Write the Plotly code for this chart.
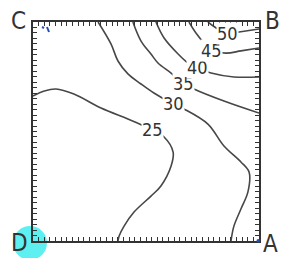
import plotly.graph_objects as go

# Contour lines (axis units 0-100, origin at corner D)
levels = [25, 30, 35, 40, 45, 50]
c25_x = [0, 5.0, 10.2, 18.1, 30.1, 42.0, 49.1, 52.7, 58.0, 62.0, 61.1, 56.6, 52.2, 44.7, 40.3, 38.1, 37.6]
c25_y = [66.2, 68.5, 69.4, 67.1, 60.7, 55.7, 52.5, 50.7, 47.5, 40.6, 34.2, 25.1, 20.5, 13.2, 6.8, 2.3, 0]
c30_x = [28.8, 34.5, 37.6, 42.0, 47.8, 53.5, 62.0, 66.8, 77.4, 84.5, 92.0, 95.6, 95.1, 92.0, 88.9, 87.6]
c30_y = [100, 90.0, 82.2, 76.3, 71.7, 67.6, 62.6, 60.3, 53.4, 43.4, 36.1, 31.5, 22.4, 14.6, 6.8, 0]
c35_x = [44.2, 47.8, 52.2, 55.3, 61.1, 66.4, 71.2, 84.5, 100]
c35_y = [100, 91.3, 85.4, 81.3, 76.7, 72.1, 69.4, 63.9, 58.4]
c40_x = [54.4, 58.0, 64.2, 68.6, 73.0, 78.8, 88.9, 100]
c40_y = [100, 92.7, 85.4, 81.3, 79.0, 76.7, 74.9, 74.9]
c45_x = [69.0, 72.1, 75.7, 78.8, 85.4, 92.0, 100]
c45_y = [100, 95.0, 90.4, 87.2, 85.8, 86.8, 88.1]
c50_x = [77.4, 80.6, 86.0, 91.2, 100]
c50_y = [100, 97.6, 94.6, 95.4, 96.8]
contours_x = [c25_x, c30_x, c35_x, c40_x, c45_x, c50_x]
contours_y = [c25_y, c30_y, c35_y, c40_y, c45_y, c50_y]
# label positions on each line
label_x = [52.7, 62.0, 66.4, 73.0, 78.8, 86.0]
label_y = [50.7, 62.6, 72.1, 79.0, 87.2, 94.6]
corner_names = ["A", "B", "C", "D"]

FONT = "Liberation Sans Narrow, DejaVu Sans Condensed, Liberation Sans"

fig = go.Figure()
for xs, ys in zip(contours_x, contours_y):
    fig.add_trace(go.Scatter(x=xs, y=ys, mode="lines",
                             line=dict(color="#474747", width=1.6, shape="spline", smoothing=1.0),
                             hoverinfo="skip", showlegend=False, cliponaxis=True))

for lv, lx, ly in zip(levels, label_x, label_y):
    fig.add_annotation(x=lx, y=ly, text=str(lv), showarrow=False,
                       font=dict(size=18, color="#333333", family=FONT),
                       bgcolor="white", borderpad=0)

# corner labels (paper coords)
corner_pos = {"A": (1.053, -0.014), "B": (1.058, 1.003), "C": (-0.066, 1.003), "D": (-0.058, -0.009)}
for name in corner_names:
    px, py = corner_pos[name]
    fig.add_annotation(x=px, y=py, xref="paper", yref="paper", text=name, showarrow=False,
                       xanchor="center", yanchor="middle",
                       font=dict(size=24, color="#333333", family=FONT))

# cyan highlight at D
fig.add_shape(type="circle", xref="paper", yref="paper",
              x0=(12 - 32) / 226, x1=(46 - 32) / 226, y0=(240 - 259) / 219, y1=(240 - 225) / 219,
              fillcolor="#5EF0F0", line=dict(width=0), layer="below")
# small blue marks
fig.add_shape(type="line", xref="paper", yref="paper",
              x0=(41 - 32) / 226, x1=(43 - 32) / 226, y0=(240 - 26) / 219, y1=(240 - 27) / 219,
              line=dict(color="#1f4fb0", width=2))
fig.add_shape(type="line", xref="paper", yref="paper",
              x0=(46 - 32) / 226, x1=(48 - 32) / 226, y0=(240 - 26) / 219, y1=(240 - 31) / 219,
              line=dict(color="#1f4fb0", width=2))
fig.add_shape(type="circle", xref="paper", yref="paper",
              x0=(255.5 - 32) / 226, x1=(259 - 32) / 226, y0=(240 - 241.5) / 219, y1=(240 - 238) / 219,
              fillcolor="#1f4fb0", line=dict(width=0))

axis_common = dict(range=[0, 100], showgrid=False, zeroline=False, showticklabels=False,
                   ticks="inside", ticklen=4, tickwidth=1.4, tickcolor="#333333",
                   dtick=2.5, tick0=0, showline=True, linecolor="#333333", linewidth=2,
                   mirror="ticks", fixedrange=True)
fig.update_xaxes(**axis_common)
fig.update_yaxes(**axis_common)

fig.update_layout(width=293, height=258, margin=dict(l=25, r=42, t=14, b=25),
                  plot_bgcolor="white", paper_bgcolor="white", showlegend=False)

fig.write_html("out.html")
